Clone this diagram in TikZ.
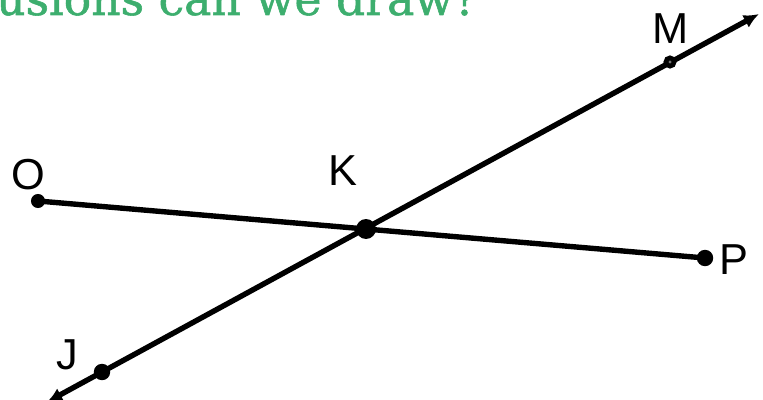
\documentclass[tikz,border=0pt]{standalone}
\usepackage{fontspec}
\setmainfont{Liberation Sans}
\newfontfamily\titlefont[FakeBold=1.2]{DejaVu Serif}
\usetikzlibrary{arrows.meta,positioning}
\definecolor{titlegreen}{RGB}{61,174,110}
\tikzset{
	thickline/.style={line width=4.6pt}, % the width of both lines
	point/.style={circle, fill, inner sep=0pt, minimum size=#1, node contents={}},
	ringpoint/.style={circle, draw, line width=4pt, fill=black!55, inner sep=0pt, minimum size=#1, node contents={}},
	lbl/.style={font=\fontsize{37}{40}\selectfont, inner sep=0pt}
}

\begin{document}
\begin{tikzpicture}[x=0.03cm,y=-0.03cm]
\useasboundingbox (0,0) rectangle (763,400);
% title, cut off at the top
\node[anchor=base west, text=titlegreen, font=\titlefont\fontsize{39}{42}\selectfont, inner sep=0pt] (title) at (-4,15) {usions can we draw?};
% points
\coordinate (o) at (38,201);
\coordinate (k) at (366,229);
\coordinate (p) at (705,258);
\coordinate (m) at (670,62);
\coordinate (j) at (102,372);
\coordinate (mend) at (759,14);
\coordinate (jend) at (47,402);
% lines
\draw[thickline] (o) -- (p);
\draw[thickline, {Latex[length=13pt,width=12pt]}-{Latex[length=13pt,width=12pt]}] (jend) -- (mend);
% dots
\node (odot) at (o) [point=12pt];
\node (kdot) at (k) [point=17pt];
\node (pdot) at (p) [point=14pt];
\node (jdot) at (j) [point=14pt];
\node (mdot) at (m) [ringpoint=7pt];
% labels
\node[lbl] (olbl) at (28,175) {O};
\node[lbl] (klbl) at (343,171) {K};
\node[lbl] (plbl) at (734,260) {P};
\node[lbl] (mlbl) at (671,29) {M};
\node[lbl] (jlbl) at (67,355) {J};
\end{tikzpicture}
\end{document}
